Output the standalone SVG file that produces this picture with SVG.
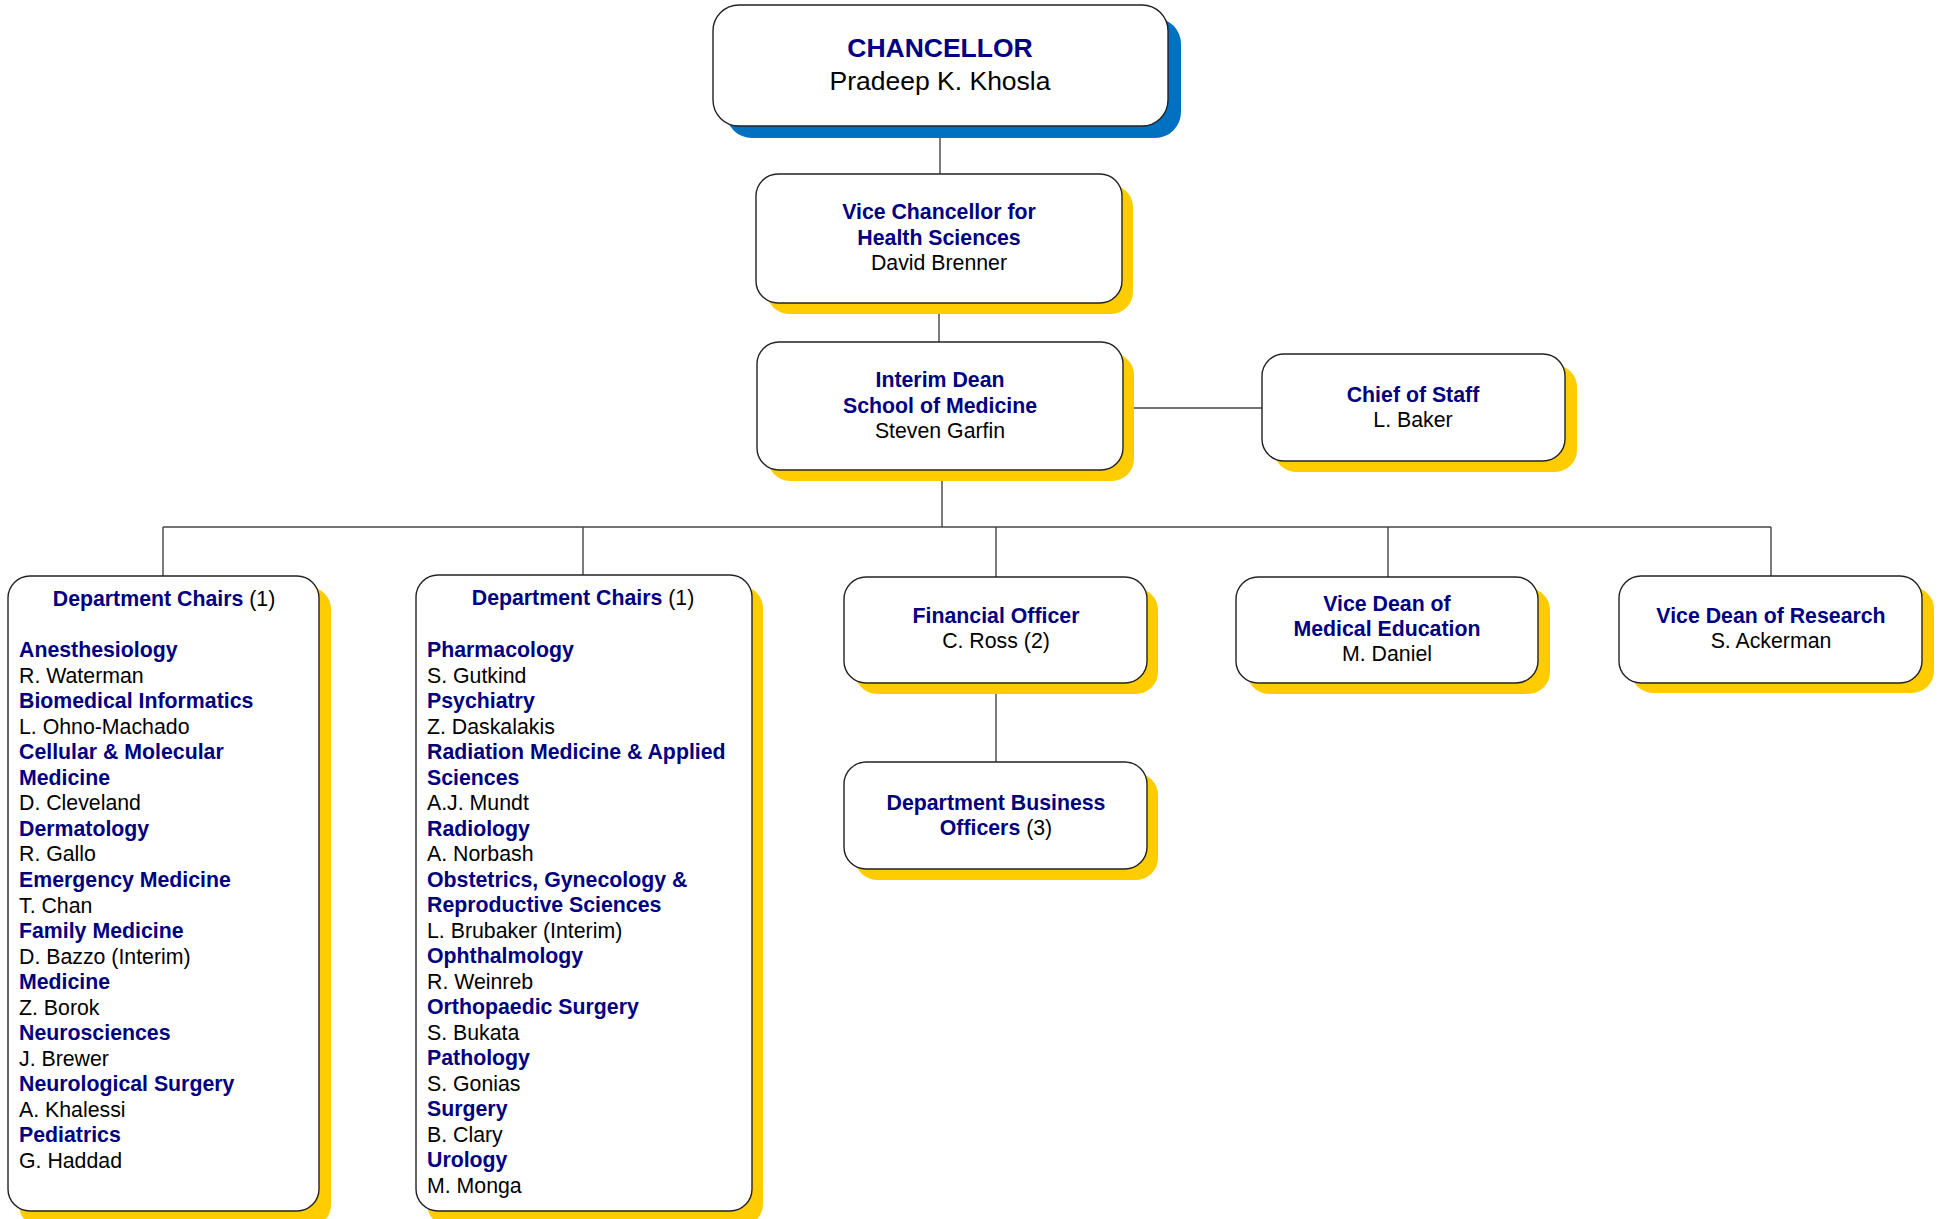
<svg xmlns="http://www.w3.org/2000/svg" width="1940" height="1219" viewBox="0 0 1940 1219">
<style>
text{font-family:"Liberation Sans",Arial,sans-serif;font-size:21.3px;fill:#000}
.h{font-weight:bold;fill:#000080}
.n{font-weight:normal;fill:#000}
.c{text-anchor:middle}
.box{fill:#fff;stroke:#222;stroke-width:1.4}
.sh{fill:#FFCC00}
.shb{fill:#0070C0}
.ln{stroke:#444;stroke-width:1.4;fill:none}
</style>
<rect width="1940" height="1219" fill="#fff"/>
<g id="connectors">
<line class="ln" x1="940" y1="126" x2="940" y2="174"/>
<line class="ln" x1="939" y1="303" x2="939" y2="342"/>
<line class="ln" x1="1123" y1="408" x2="1262" y2="408"/>
<line class="ln" x1="942" y1="470" x2="942" y2="527"/>
<line class="ln" x1="163" y1="527" x2="1771" y2="527"/>
<line class="ln" x1="163" y1="527" x2="163" y2="576"/>
<line class="ln" x1="583" y1="527" x2="583" y2="575"/>
<line class="ln" x1="996" y1="527" x2="996" y2="577"/>
<line class="ln" x1="1388" y1="527" x2="1388" y2="577"/>
<line class="ln" x1="1771" y1="527" x2="1771" y2="576"/>
<line class="ln" x1="996" y1="683" x2="996" y2="762"/>
</g>
<g id="chancellor">
<rect class="shb" x="726" y="18" width="455" height="120" rx="26"/>
<rect class="box" x="713" y="5" width="455" height="121" rx="26"/>
<text class="c" x="940" y="57" style="font-size:26.5px"><tspan class="h">CHANCELLOR</tspan></text>
<text class="c" x="940" y="90" style="font-size:26.5px">Pradeep K. Khosla</text>
</g>
<g id="vice-chancellor">
<rect class="sh" x="767" y="185" width="366" height="129" rx="22"/>
<rect class="box" x="756" y="174" width="366" height="129" rx="22"/>
<text class="c" x="939" y="219"><tspan class="h">Vice Chancellor for</tspan></text>
<text class="c" x="939" y="245"><tspan class="h">Health Sciences</tspan></text>
<text class="c" x="939" y="270">David Brenner</text>
</g>
<g id="dean">
<rect class="sh" x="768" y="353" width="366" height="128" rx="22"/>
<rect class="box" x="757" y="342" width="366" height="128" rx="22"/>
<text class="c" x="940" y="387"><tspan class="h">Interim Dean</tspan></text>
<text class="c" x="940" y="413"><tspan class="h">School of Medicine</tspan></text>
<text class="c" x="940" y="438">Steven Garfin</text>
</g>
<g id="chief-of-staff">
<rect class="sh" x="1274" y="365" width="303" height="107" rx="22"/>
<rect class="box" x="1262" y="354" width="303" height="107" rx="22"/>
<text class="c" x="1413" y="402"><tspan class="h">Chief of Staff</tspan></text>
<text class="c" x="1413" y="427">L. Baker</text>
</g>
<g id="dept-chairs-1">
<rect class="sh" x="19" y="587" width="312" height="640" rx="22"/>
<rect class="box" x="8" y="576" width="311" height="635" rx="22"/>
<text class="c" x="164" y="606"><tspan class="h">Department Chairs</tspan><tspan class="n"> (1)</tspan></text>
<text x="19" y="657">
<tspan class="h" x="19" y="657">Anesthesiology</tspan>
<tspan class="n" x="19" dy="25.55">R. Waterman</tspan>
<tspan class="h" x="19" dy="25.55">Biomedical Informatics</tspan>
<tspan class="n" x="19" dy="25.55">L. Ohno-Machado</tspan>
<tspan class="h" x="19" dy="25.55">Cellular &amp; Molecular</tspan>
<tspan class="h" x="19" dy="25.55">Medicine</tspan>
<tspan class="n" x="19" dy="25.55">D. Cleveland</tspan>
<tspan class="h" x="19" dy="25.55">Dermatology</tspan>
<tspan class="n" x="19" dy="25.55">R. Gallo</tspan>
<tspan class="h" x="19" dy="25.55">Emergency Medicine</tspan>
<tspan class="n" x="19" dy="25.55">T. Chan</tspan>
<tspan class="h" x="19" dy="25.55">Family Medicine</tspan>
<tspan class="n" x="19" dy="25.55">D. Bazzo (Interim)</tspan>
<tspan class="h" x="19" dy="25.55">Medicine</tspan>
<tspan class="n" x="19" dy="25.55">Z. Borok</tspan>
<tspan class="h" x="19" dy="25.55">Neurosciences</tspan>
<tspan class="n" x="19" dy="25.55">J. Brewer</tspan>
<tspan class="h" x="19" dy="25.55">Neurological Surgery</tspan>
<tspan class="n" x="19" dy="25.55">A. Khalessi</tspan>
<tspan class="h" x="19" dy="25.55">Pediatrics</tspan>
<tspan class="n" x="19" dy="25.55">G. Haddad</tspan>
</text>
</g>
<g id="dept-chairs-2">
<rect class="sh" x="427" y="586" width="336" height="640" rx="22"/>
<rect class="box" x="416" y="575" width="336" height="636" rx="22"/>
<text class="c" x="583" y="605"><tspan class="h">Department Chairs</tspan><tspan class="n"> (1)</tspan></text>
<text x="427" y="657">
<tspan class="h" x="427" y="657">Pharmacology</tspan>
<tspan class="n" x="427" dy="25.5">S. Gutkind</tspan>
<tspan class="h" x="427" dy="25.5">Psychiatry</tspan>
<tspan class="n" x="427" dy="25.5">Z. Daskalakis</tspan>
<tspan class="h" x="427" dy="25.5">Radiation Medicine &amp; Applied</tspan>
<tspan class="h" x="427" dy="25.5">Sciences</tspan>
<tspan class="n" x="427" dy="25.5">A.J. Mundt</tspan>
<tspan class="h" x="427" dy="25.5">Radiology</tspan>
<tspan class="n" x="427" dy="25.5">A. Norbash</tspan>
<tspan class="h" x="427" dy="25.5">Obstetrics, Gynecology &amp;</tspan>
<tspan class="h" x="427" dy="25.5">Reproductive Sciences</tspan>
<tspan class="n" x="427" dy="25.5">L. Brubaker (Interim)</tspan>
<tspan class="h" x="427" dy="25.5">Ophthalmology</tspan>
<tspan class="n" x="427" dy="25.5">R. Weinreb</tspan>
<tspan class="h" x="427" dy="25.5">Orthopaedic Surgery</tspan>
<tspan class="n" x="427" dy="25.5">S. Bukata</tspan>
<tspan class="h" x="427" dy="25.5">Pathology</tspan>
<tspan class="n" x="427" dy="25.5">S. Gonias</tspan>
<tspan class="h" x="427" dy="25.5">Surgery</tspan>
<tspan class="n" x="427" dy="25.5">B. Clary</tspan>
<tspan class="h" x="427" dy="25.5">Urology</tspan>
<tspan class="n" x="427" dy="25.5">M. Monga</tspan>
</text>
</g>
<g id="financial-officer">
<rect class="sh" x="855" y="588" width="303" height="106" rx="22"/>
<rect class="box" x="844" y="577" width="303" height="106" rx="22"/>
<text class="c" x="996" y="623"><tspan class="h">Financial Officer</tspan></text>
<text class="c" x="996" y="648">C. Ross (2)</text>
</g>
<g id="dept-business-officers">
<rect class="sh" x="855" y="773" width="303" height="107" rx="22"/>
<rect class="box" x="844" y="762" width="303" height="107" rx="22"/>
<text class="c" x="996" y="810"><tspan class="h">Department Business</tspan></text>
<text class="c" x="996" y="835"><tspan class="h">Officers</tspan><tspan class="n"> (3)</tspan></text>
</g>
<g id="vice-dean-med-ed">
<rect class="sh" x="1247" y="588" width="303" height="106" rx="22"/>
<rect class="box" x="1236" y="577" width="302" height="106" rx="22"/>
<text class="c" x="1387" y="611"><tspan class="h">Vice Dean of</tspan></text>
<text class="c" x="1387" y="636"><tspan class="h">Medical Education</tspan></text>
<text class="c" x="1387" y="661">M. Daniel</text>
</g>
<g id="vice-dean-research">
<rect class="sh" x="1631" y="587" width="303" height="106" rx="22"/>
<rect class="box" x="1619" y="576" width="303" height="107" rx="22"/>
<text class="c" x="1771" y="623"><tspan class="h">Vice Dean of Research</tspan></text>
<text class="c" x="1771" y="648">S. Ackerman</text>
</g>
</svg>
